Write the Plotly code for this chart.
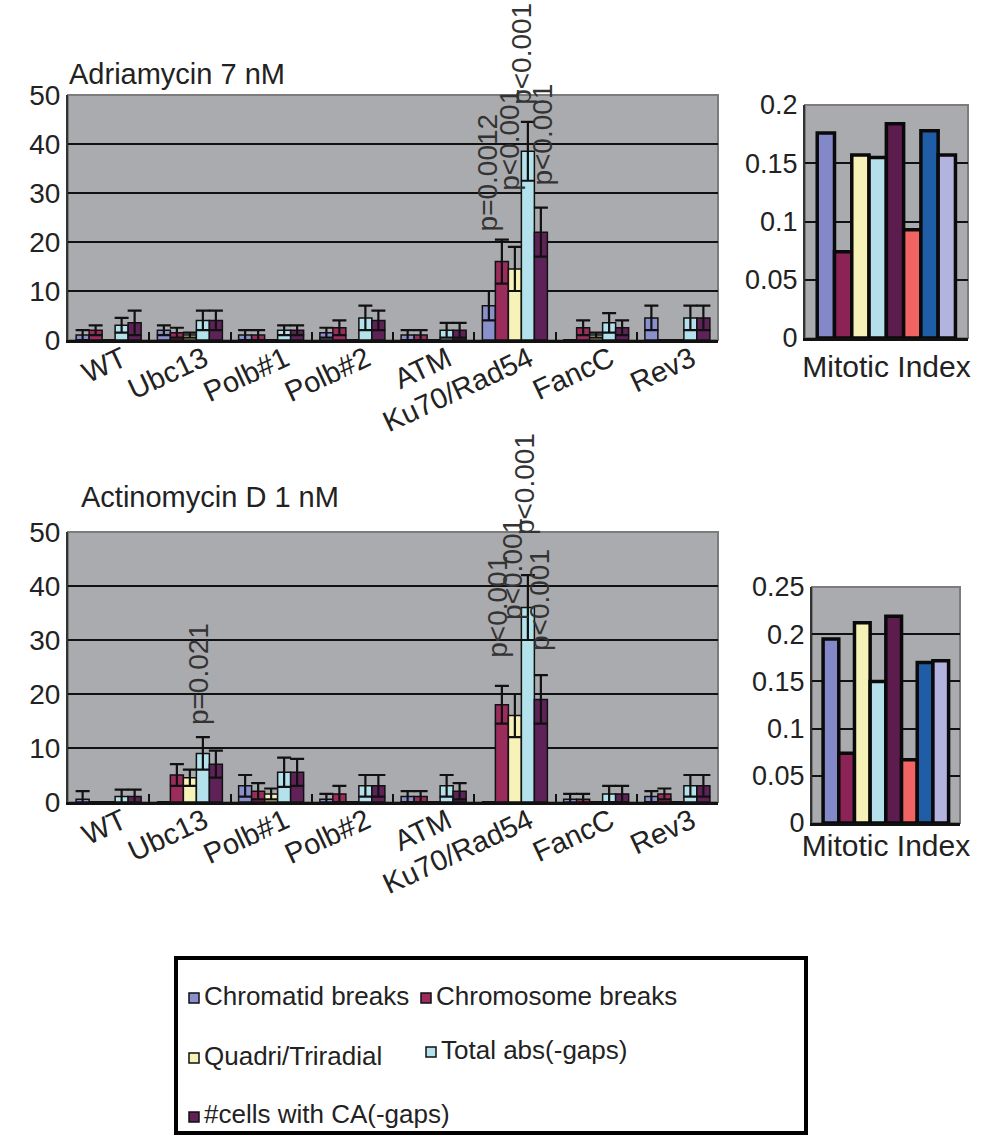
import plotly.graph_objects as go

W, H = 986, 1140

# ---- data -------------------------------------------------------------
categories = ["WT", "Ubc13", "Polb#1", "Polb#2", "ATM", "Ku70/Rad54", "FancC", "Rev3"]
series_names = ["Chromatid breaks", "Chromosome breaks", "Quadri/Triradial",
                "Total abs(-gaps)", "#cells with CA(-gaps)"]

# Adriamycin 7 nM
adr_chromatid = [1.0, 2.0, 1.0, 1.5, 1.0, 7.0, 0.0, 4.5]
adr_chromatid_err = [1.0, 1.0, 1.0, 1.0, 1.0, 3.0, 0.0, 2.5]
adr_chromosome = [2.0, 1.5, 1.0, 2.5, 1.0, 16.0, 2.5, 0.0]
adr_chromosome_err = [1.0, 1.0, 1.0, 1.5, 1.0, 4.5, 1.5, 0.0]
adr_quadri = [0.0, 1.0, 0.0, 0.0, 0.0, 14.5, 1.0, 0.0]
adr_quadri_err = [0.0, 0.5, 0.0, 0.0, 0.0, 4.5, 0.5, 0.0]
adr_total = [3.0, 4.0, 2.0, 4.5, 2.0, 38.5, 3.5, 4.5]
adr_total_err = [1.5, 2.0, 1.0, 2.5, 1.5, 6.0, 2.0, 2.5]
adr_cells = [3.5, 4.0, 2.0, 4.0, 2.0, 22.0, 2.5, 4.5]
adr_cells_err = [2.5, 2.0, 1.0, 2.0, 1.5, 5.0, 1.5, 2.5]

# Actinomycin D 1 nM
act_chromatid = [0.5, 0.0, 3.0, 0.5, 1.0, 0.0, 0.5, 1.0]
act_chromatid_err = [1.5, 0.0, 2.0, 1.0, 1.0, 0.0, 1.0, 1.0]
act_chromosome = [0.0, 5.0, 2.0, 1.5, 1.0, 18.0, 0.5, 1.5]
act_chromosome_err = [0.0, 2.0, 1.5, 1.5, 1.0, 3.5, 1.0, 1.0]
act_quadri = [0.0, 4.5, 1.5, 0.0, 0.0, 16.0, 0.0, 0.0]
act_quadri_err = [0.0, 1.5, 1.0, 0.0, 0.0, 4.0, 0.0, 0.0]
act_total = [1.0, 9.0, 5.5, 3.0, 3.0, 36.0, 1.5, 3.0]
act_total_err = [1.3, 3.0, 2.7, 2.0, 2.0, 6.0, 1.5, 2.0]
act_cells = [1.0, 7.0, 5.5, 3.0, 2.0, 19.0, 1.5, 3.0]
act_cells_err = [1.3, 2.5, 2.5, 2.0, 1.5, 4.5, 1.5, 2.0]

# Mitotic index (one bar per genotype, same order as categories)
mi_category = ["Mitotic Index"]
mi_adriamycin = [0.176, 0.074, 0.157, 0.155, 0.184, 0.093, 0.178, 0.157]
mi_actinomycin = [0.195, 0.074, 0.212, 0.150, 0.219, 0.067, 0.170, 0.172]

main_ticks = [0, 10, 20, 30, 40, 50]
mi_ticks_adr = [0, 0.05, 0.1, 0.15, 0.2]
mi_ticklabels_adr = ["0", "0.05", "0.1", "0.15", "0.2"]
mi_ticks_act = [0, 0.05, 0.1, 0.15, 0.2, 0.25]
mi_ticklabels_act = ["0", "0.05", "0.1", "0.15", "0.2", "0.25"]

# p-value labels: (series index, category, text)
adr_pvalues = [(1, "Ku70/Rad54", "p=0.0012"), (2, "Ku70/Rad54", "p<0.001"),
               (3, "Ku70/Rad54", "p<0.001"), (4, "Ku70/Rad54", "p<0.001")]
act_pvalues = [(3, "Ubc13", "p=0.021"), (1, "Ku70/Rad54", "p<0.001"),
               (2, "Ku70/Rad54", "p<0.001"), (3, "Ku70/Rad54", "p<0.001"),
               (4, "Ku70/Rad54", "p<0.001")]

# ---- styling ----------------------------------------------------------
FONT = "Liberation Sans, Arial, sans-serif"
TEXT = "#222222"
PLOT_BG = "#aaabae"
series_colors = ["#8a90cc", "#9b2d5c", "#f7f3b8", "#b4e2ec", "#5e2258"]
mi_colors = ["#8389c8", "#8c2356", "#f6f1b6", "#b3e0ea", "#5c1d4e",
             "#f26464", "#1f5ea6", "#b3b3e0"]


def px_x(px):
    return px / W


def px_y(px):
    return 1 - px / H


fig = go.Figure()

adr_vals = [adr_chromatid, adr_chromosome, adr_quadri, adr_total, adr_cells]
adr_errs = [adr_chromatid_err, adr_chromosome_err, adr_quadri_err, adr_total_err, adr_cells_err]
act_vals = [act_chromatid, act_chromosome, act_quadri, act_total, act_cells]
act_errs = [act_chromatid_err, act_chromosome_err, act_quadri_err, act_total_err, act_cells_err]

for xa, ya, vals, errs in (("x", "y", adr_vals, adr_errs), ("x3", "y3", act_vals, act_errs)):
    for name, v, e, c in zip(series_names, vals, errs, series_colors):
        fig.add_trace(go.Bar(
            x=categories, y=v, name=name, xaxis=xa, yaxis=ya, showlegend=False,
            marker=dict(color=c, line=dict(color="#111111", width=1.5)),
            error_y=dict(type="data", array=e, visible=True, color="#111111",
                         thickness=2.2, width=7),
        ))

bar_w = 0.106
bar_start = -0.425
for xa, ya, vals in (("x2", "y2", mi_adriamycin), ("x4", "y4", mi_actinomycin)):
    for i, (v, c) in enumerate(zip(vals, mi_colors)):
        fig.add_trace(go.Bar(
            x=mi_category, y=[v], xaxis=xa, yaxis=ya, showlegend=False,
            width=bar_w, offset=bar_start + i * bar_w,
            marker=dict(color=c, line=dict(color="#0a0a0a", width=3.5)),
        ))

# ---- axes -------------------------------------------------------------
main_x = dict(type="category", categoryorder="array", categoryarray=categories,
              tickangle=-25, ticks="inside", tickson="boundaries", ticklen=8,
              tickwidth=2, tickcolor="#111111", showline=True, linecolor="#111111",
              linewidth=3, tickfont=dict(family=FONT, size=29, color=TEXT),
              ticklabelstandoff=-12, ticklabelshift=14,
              showgrid=False, zeroline=False, automargin=False)
main_y = dict(range=[0, 50], tickvals=main_ticks, showgrid=True, gridcolor="#111111",
              gridwidth=2, showline=True, linecolor="#333333", linewidth=2,
              ticks="", zeroline=False, automargin=False,
              tickfont=dict(family=FONT, size=28, color=TEXT))
mi_x = dict(type="category", showline=True, linecolor="#111111", linewidth=3,
            ticks="", showgrid=False, zeroline=False, automargin=False,
            tickfont=dict(family=FONT, size=30, color=TEXT))
mi_y = dict(showgrid=True, gridcolor="#111111", gridwidth=2, showline=True,
            linecolor="#333333", linewidth=2, ticks="", zeroline=False, automargin=False,
            tickfont=dict(family=FONT, size=27, color=TEXT))

fig.update_layout(
    xaxis=dict(main_x, domain=[px_x(68), px_x(718)], anchor="y"),
    yaxis=dict(main_y, domain=[px_y(340), px_y(95)], anchor="x"),
    xaxis3=dict(main_x, domain=[px_x(68), px_x(718)], anchor="y3"),
    yaxis3=dict(main_y, domain=[px_y(802), px_y(532)], anchor="x3"),
    xaxis2=dict(mi_x, domain=[px_x(805), px_x(968)], anchor="y2"),
    yaxis2=dict(mi_y, domain=[px_y(338), px_y(105)], anchor="x2", range=[0, 0.2],
                tickvals=mi_ticks_adr, ticktext=mi_ticklabels_adr),
    xaxis4=dict(mi_x, domain=[px_x(812), px_x(960)], anchor="y4", ticklabelstandoff=-6),
    yaxis4=dict(mi_y, domain=[px_y(823), px_y(587)], anchor="x4", range=[0, 0.25],
                tickvals=mi_ticks_act, ticktext=mi_ticklabels_act),
)

# grey frame around each plot area
for xa, ya in (("x", "y"), ("x2", "y2"), ("x3", "y3"), ("x4", "y4")):
    fig.add_shape(type="rect", xref=f"{xa} domain", yref=f"{ya} domain",
                  x0=0, x1=1, y0=0, y1=1, layer="below",
                  line=dict(color="#7c7c7c", width=2))

annotations = []

# panel titles
annotations.append(dict(text="Adriamycin 7 nM", xref="paper", yref="paper",
                        x=px_x(67), y=px_y(74), xanchor="left", yanchor="middle",
                        showarrow=False, font=dict(family=FONT, size=29, color=TEXT)))
annotations.append(dict(text="Actinomycin D 1 nM", xref="paper", yref="paper",
                        x=px_x(79), y=px_y(497), xanchor="left", yanchor="middle",
                        showarrow=False, font=dict(family=FONT, size=29, color=TEXT)))

# p-value labels above the error bars
adr_shift = {(1, "Ku70/Rad54"): (-27, 6), (2, "Ku70/Rad54"): (-5, 54),
             (3, "Ku70/Rad54"): (7, 15), (4, "Ku70/Rad54"): (28, 20)}
act_shift = {(3, "Ubc13"): (8, 10), (1, "Ku70/Rad54"): (-17, 26),
             (2, "Ku70/Rad54"): (-3, 72), (3, "Ku70/Rad54"): (9, 38),
             (4, "Ku70/Rad54"): (24, 22)}
for xa, ya, labels, vals, errs, shifts in (
        ("x", "y", adr_pvalues, adr_vals, adr_errs, adr_shift),
        ("x3", "y3", act_pvalues, act_vals, act_errs, act_shift)):
    for si, cat, txt in labels:
        k = categories.index(cat)
        dx, dy = shifts[(si, cat)]
        annotations.append(dict(
            text=txt, xref=xa, yref=ya, x=cat, y=vals[si][k] + errs[si][k],
            xshift=dx, yshift=dy, textangle=-90, xanchor="center", yanchor="bottom",
            showarrow=False, font=dict(family=FONT, size=28, color="#333333")))

# legend box
legend_items = [
    (0, 189, 998, 202, 996),
    (1, 421, 998, 434, 996),
    (2, 189, 1058, 202, 1056),
    (3, 426, 1052, 439, 1050),
    (4, 189, 1117, 202, 1114),
]
fig.add_shape(type="rect", xref="paper", yref="paper",
              x0=px_x(176), x1=px_x(806), y0=px_y(1133), y1=px_y(958),
              line=dict(color="#000000", width=4), fillcolor="white")
for si, sx, sy, tx, ty in legend_items:
    fig.add_shape(type="rect", xref="paper", yref="paper",
                  x0=px_x(sx), x1=px_x(sx + 10), y0=px_y(sy + 5), y1=px_y(sy - 5),
                  line=dict(color="#111111", width=1.5), fillcolor=series_colors[si])
    annotations.append(dict(text=series_names[si], xref="paper", yref="paper",
                            x=px_x(tx), y=px_y(ty), xanchor="left", yanchor="middle",
                            showarrow=False,
                            font=dict(family=FONT, size=26, color=TEXT)))

fig.update_layout(
    annotations=annotations,
    width=W, height=H,
    margin=dict(l=0, r=0, t=0, b=0),
    paper_bgcolor="white", plot_bgcolor=PLOT_BG,
    barmode="group", bargap=0.2, bargroupgap=0,
    showlegend=False,
)

fig.write_html("out.html")
